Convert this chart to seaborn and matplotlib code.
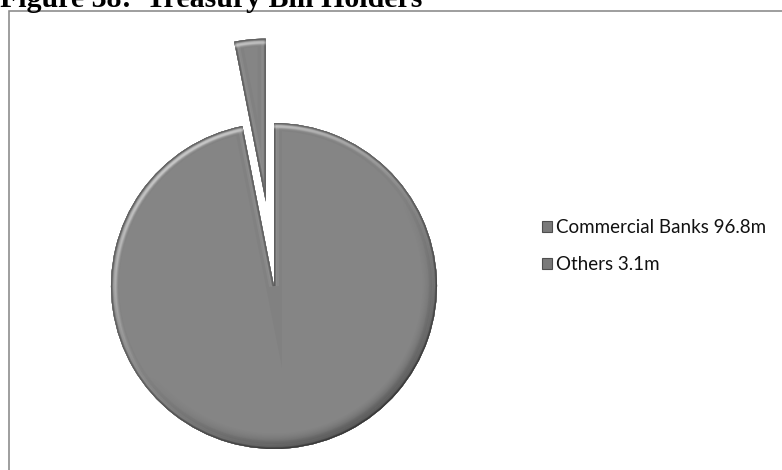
import numpy as np
import matplotlib
matplotlib.use("Agg")
import matplotlib.pyplot as plt
import seaborn as sns
from matplotlib.patches import PathPatch, Rectangle, Patch

# Treasury bill holdings (millions)
holders = ["Commercial Banks", "Others"]
amounts = [96.8, 3.1]
legend_labels = [f"{h} {a}m" for h, a in zip(holders, amounts)]
explode = [0.0, 0.52]

sns.set_theme(style="white")
plt.rcParams["font.family"] = ["Lato", "DejaVu Sans"]

W, H = 782, 470
fig = plt.figure(figsize=(W / 100, H / 100), dpi=100)
fig.patch.set_facecolor("white")

# pie placement in pixels (centre and radius)
cx, cy, r = 274, 286, 163
xlim = (-1.5, 1.5)
ylim = (-1.2, 1.7)
ax_w = (xlim[1] - xlim[0]) * r
ax_h = (ylim[1] - ylim[0]) * r
left = cx + xlim[0] * r
top = cy - ylim[1] * r
ax = fig.add_axes([left / W, 1 - (top + ax_h) / H, ax_w / W, ax_h / H])

base = "#858585"
wedges, _ = ax.pie(amounts, explode=explode, startangle=90, counterclock=False,
                   colors=[base, base], wedgeprops=dict(linewidth=0))
ax.axis("off")

px = 72 / 100  # points per pixel
# bevel: strokes along each slice outline, clipped to the slice
layers = [(8, "#818181"), (5, "#888888"), (3.2, "#8d8d8d"),
          (2.0, "#747474"), (1.1, "#5e5e5e")]
for w in wedges:
    for d, col in layers:
        p = PathPatch(w.get_path(), transform=w.get_transform(), fill=False,
                      ec=col, lw=2 * d * px, joinstyle="miter")
        p.set_clip_path(w)
        ax.add_patch(p)
    # directional light on the outer rim: highlight top-left, shadow bottom-right
    x0, y0 = w.center
    n = 600
    gx, gy = np.meshgrid(np.linspace(x0 - 1.05, x0 + 1.05, n),
                         np.linspace(y0 - 1.05, y0 + 1.05, n))
    rho = np.hypot(gx - x0, gy - y0)
    phi = np.arctan2(gy - y0, gx - x0)
    light = np.cos(phi - np.deg2rad(125))
    ring = np.exp(-((rho - 0.975) / 0.012) ** 2)          # thin highlight line
    band = np.clip((rho - 0.9) / 0.1, 0, 1) ** 1.5         # broad shadow
    hl = ring * np.clip(light, 0, 1) * 0.55
    sh = band * np.clip(-light, 0, 1) * 0.45
    rgba = np.zeros((n, n, 4))
    rgba[..., :3] = np.where((hl > sh)[..., None], 1.0, 0.0)
    rgba[..., 3] = np.maximum(hl, sh)
    im = ax.imshow(rgba, extent=(x0 - 1.05, x0 + 1.05, y0 - 1.05, y0 + 1.05),
                   origin="lower", interpolation="bilinear", zorder=3)
    im.set_clip_path(w)
ax.set_xlim(*xlim)
ax.set_ylim(*ylim)
ax.set_aspect("auto")

# legend
handles = [Patch(facecolor="#7a7a7a", edgecolor="#4e4e4e", linewidth=0.8)
           for _ in holders]
fs = 13.5
fig.legend(handles, legend_labels, loc="center left",
           bbox_to_anchor=(542 / W, 1 - 246 / H), frameon=False,
           fontsize=fs, handlelength=0.55, handleheight=0.55,
           handletextpad=0.2, labelspacing=1.08, borderpad=0,
           borderaxespad=0, labelcolor="#111111")

# chart frame
fig.add_artist(Rectangle((8.5 / W, -0.2), 1.2, 1 - 11 / H + 0.2,
                         transform=fig.transFigure, fill=False,
                         ec="#898989", lw=1.6 * px, clip_on=False))

# title
fig.text(0 / W, 1 - 7 / H, "Figure 38:  Treasury Bill Holders",
         ha="left", va="baseline", fontsize=21.5, fontweight="bold",
         family=["Liberation Serif", "DejaVu Serif"], color="black")

fig.savefig("out.png", dpi=100, facecolor="white")
